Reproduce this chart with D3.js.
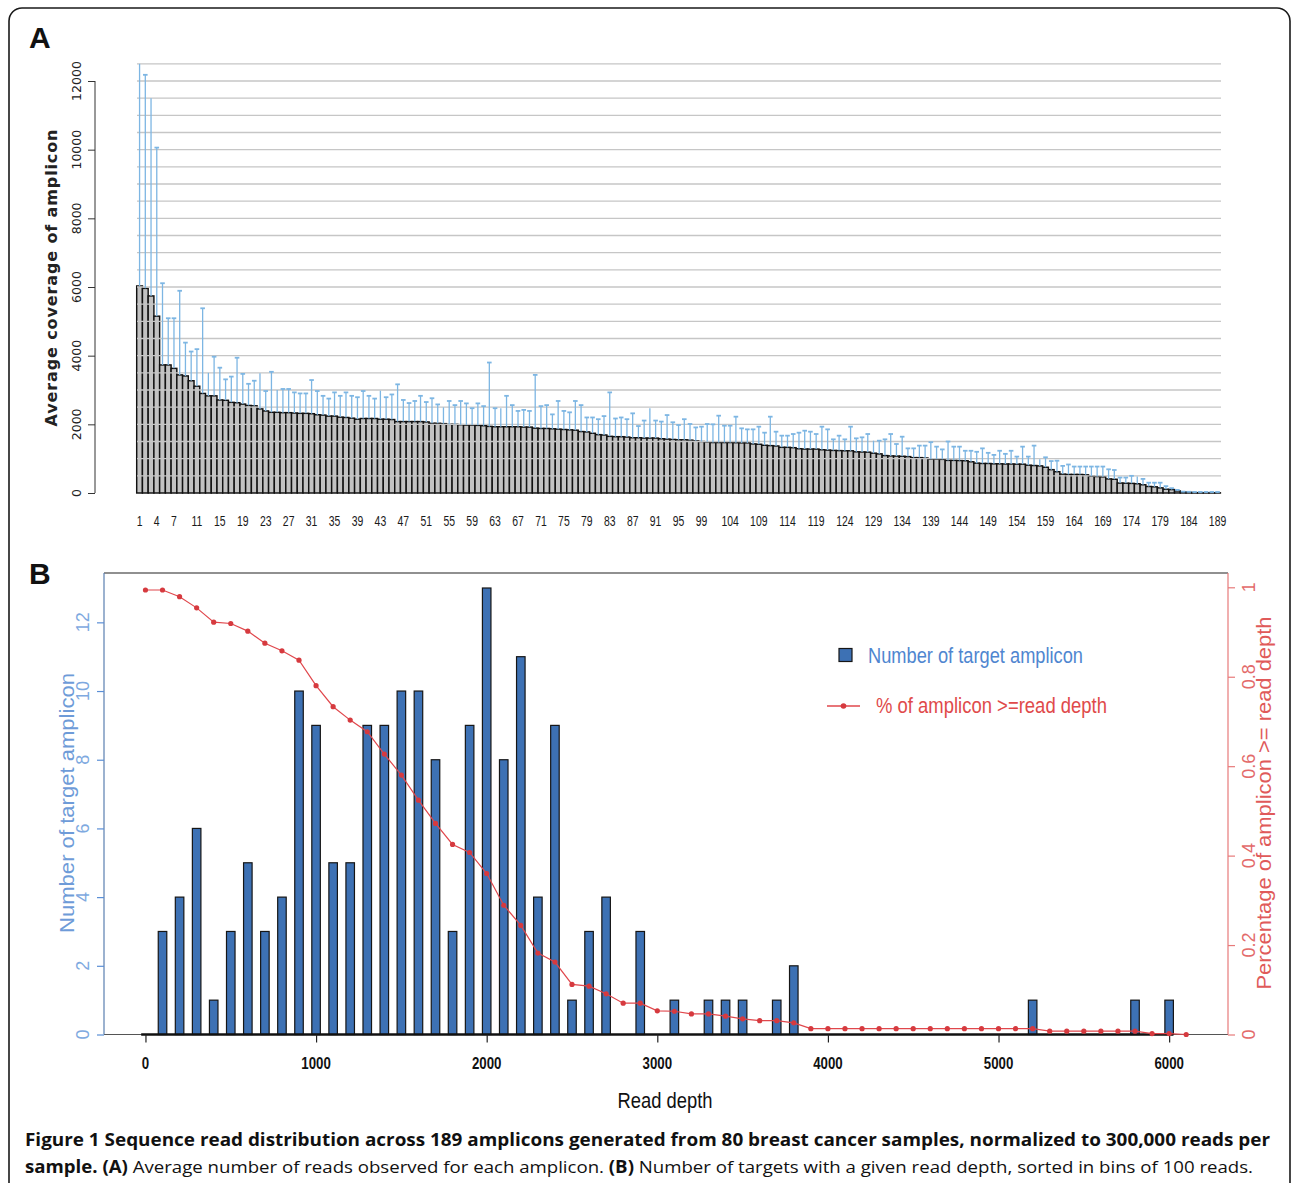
<!DOCTYPE html>
<html><head><meta charset="utf-8">
<script src="https://cdn.jsdelivr.net/npm/d3@7"></script>
<style>body{margin:0;background:#fff} svg{display:block}</style>
</head><body>
<svg id="fig" width="1292" height="1183"></svg>
<script>
// ---------- Panel A data ----------
const ampliconIds = d3.range(1, 190);
const coverageMean = [
 6030,5960,5740,5150,3730,3730,3630,3440,3410,3270,
 3110,2900,2830,2830,2710,2700,2640,2630,2590,2550,
 2540,2450,2390,2350,2350,2340,2340,2330,2320,2320,
 2310,2280,2270,2240,2240,2210,2200,2180,2150,2170,
 2170,2170,2150,2150,2140,2080,2080,2080,2080,2080,
 2070,2030,2030,2020,2000,2000,1990,1980,1980,1970,
 1960,1940,1930,1930,1930,1930,1930,1920,1920,1890,
 1880,1880,1870,1860,1850,1840,1830,1790,1780,1740,
 1700,1690,1650,1640,1640,1630,1610,1610,1600,1600,
 1600,1580,1570,1560,1550,1550,1540,1520,1500,1490,
 1470,1470,1470,1470,1465,1460,1460,1430,1420,1390,
 1380,1370,1330,1330,1320,1290,1280,1280,1280,1260,
 1250,1240,1235,1230,1230,1200,1195,1190,1160,1140,
 1090,1080,1075,1070,1060,1030,1030,1020,990,990,
 980,950,950,945,940,910,870,860,860,850,
 850,845,845,840,840,810,800,790,750,680,
 620,550,540,540,540,530,490,480,470,410,
 400,290,285,280,270,240,190,180,150,110,
 100,60,25,20,10,8,6,5,4];
const coverageUpper = [
 12500,12180,11500,10060,6110,5090,5090,5890,4380,4120,
 4190,5380,3500,3970,3650,3310,3390,3940,3470,3180,
 3270,3490,2970,3530,3000,3030,3030,2930,2900,2900,
 3290,2970,2830,2750,2930,2830,2930,2830,2790,2970,
 2830,2750,2980,2790,2870,3165,2710,2620,2680,2830,
 2650,2760,2580,2495,2680,2560,2680,2610,2470,2610,
 2530,3800,2470,2470,2830,2560,2390,2420,2390,3440,
 2530,2560,2290,2680,2390,2350,2680,2560,2200,2200,
 2150,2240,2930,2170,2200,2150,2320,1950,2110,2470,
 2110,2080,2270,2060,1980,2150,2010,1910,1932,2010,
 2000,2252,1961,1961,2223,1883,1854,1854,1932,1757,
 2223,1786,1670,1670,1718,1757,1815,1786,1718,1932,
 1854,1563,1670,1563,1932,1592,1621,1718,1524,1524,
 1563,1718,1427,1640,1300,1300,1380,1380,1480,1350,
 1270,1500,1350,1350,1230,1230,1200,1300,1170,1110,
 1230,1140,1230,1060,1350,1060,1380,980,1040,930,
 940,790,830,770,770,770,770,770,770,690,
 670,450,450,500,480,410,300,300,300,200,
 140,90,40,35,30,30,30,30,30];
const noCapIds = [1,3,13,22,25,43,54,64,90,129,158,175];
const xTickLabelsA = [1,4,7,11,15,19,23,27,31,35,39,43,47,51,55,59,63,67,71,75,79,83,87,91,95,99,104,109,114,119,124,129,134,139,144,149,154,159,164,169,174,179,184,189];
const yTicksA = [0,2000,4000,6000,8000,10000,12000];
const gridA = [500,1000,1500,2000,2500,3000,3500,4000,4500,5000,5500,6000,6500,7000,7500,8000,8500,9000,9500,10000,10500,11000,11500,12000,12500];

// ---------- Panel B data ----------
const depthBins = [0,100,200,300,400,500,600,700,800,900,1000,1100,1200,1300,1400,1500,1600,1700,1800,1900,2000,2100,2200,2300,2400,2500,2600,2700,2800,2900,3000,3100,3200,3300,3400,3500,3600,3700,3800,3900,4000,4100,4200,4300,4400,4500,4600,4700,4800,4900,5000,5100,5200,5300,5400,5500,5600,5700,5800,5900,6000];
const binCounts = [0,3,4,6,1,3,5,3,4,10, 9,5,5,9,9,10,10,8,3,9, 13,8,11,4,9,1,3,4,0,3, 0,1,0,1,1,1,0,1,2,0, 0,0,0,0,0,0,0,0,0,0, 0,0,1,0,0,0,0,0,1,0, 1];
const cumDepth = [0,100,200,300,400,500,600,700,800,900,1000,1100,1200,1300,1400,1500,1600,1700,1800,1900,2000,2100,2200,2300,2400,2500,2600,2700,2800,2900,3000,3100,3200,3300,3400,3500,3600,3700,3800,3900,4000,4100,4200,4300,4400,4500,4600,4700,4800,4900,5000,5100,5200,5300,5400,5500,5600,5700,5800,5900,6000,6100];
const cumPct = [
 0.994,0.994,0.979,0.954,0.922,0.919,0.902,0.875,0.858,0.837,
 0.780,0.733,0.703,0.677,0.627,0.580,0.524,0.472,0.425,0.407,
 0.360,0.289,0.244,0.182,0.162,0.112,0.108,0.091,0.070,0.070,
 0.053,0.052,0.046,0.046,0.041,0.035,0.031,0.031,0.026,0.013,
 0.013,0.013,0.013,0.013,0.013,0.013,0.013,0.013,0.013,0.013,
 0.013,0.013,0.013,0.0075,0.0075,0.0075,0.0075,0.0075,0.0075,0.002,
 0.002,0];
const xTicksB = [0,1000,2000,3000,4000,5000,6000];
const yTicksB = [0,2,4,6,8,10,12];
const yTicksR = [0,0.2,0.4,0.6,0.8,1];
const yTickLabelsR = ["0","0.2","0.4","0.6","0.8","1"];

// ---------- Drawing ----------
const svg = d3.select("#fig");
svg.append("rect").attr("x",9).attr("y",8).attr("width",1281).attr("height",1210)
  .attr("rx",13).attr("fill","none").attr("stroke","#1a1a1a").attr("stroke-width",1.6);

const bold = "'Liberation Sans', Arial, sans-serif";
svg.append("text").attr("x",29).attr("y",48).text("A")
  .attr("font-family",bold).attr("font-weight","bold").attr("font-size",30).attr("fill","#111");
svg.append("text").attr("x",29).attr("y",584).text("B")
  .attr("font-family",bold).attr("font-weight","bold").attr("font-size",30).attr("fill","#111");

// Panel A
const xA = d3.scaleBand().domain(ampliconIds).range([136.7, 1220.4]).padding(0);
const yA = d3.scaleLinear().domain([0, 12000]).range([493, 81]);
const bw = xA.bandwidth();
const gA = svg.append("g");

gA.append("g").selectAll("rect").data(ampliconIds).join("rect")
  .attr("x", d => xA(d)).attr("width", bw)
  .attr("y", (d,i) => yA(coverageMean[i]))
  .attr("height", (d,i) => yA(0) - yA(coverageMean[i]))
  .attr("fill", "#c2c2c2").attr("stroke", "#111").attr("stroke-width", 1.45);

gA.append("g").selectAll("line").data(gridA).join("line")
  .attr("x1", 137).attr("x2", 1221)
  .attr("y1", d => yA(d)).attr("y2", d => yA(d))
  .attr("stroke", "#c6c6c6").attr("stroke-width", 1.4);

const eb = gA.append("g").attr("stroke", "#7db6e3").attr("stroke-width", 1.3);
eb.selectAll("line.v").data(ampliconIds).join("line").attr("class","v")
  .attr("x1", d => xA(d) + bw/2).attr("x2", d => xA(d) + bw/2)
  .attr("y1", (d,i) => yA(coverageMean[i])).attr("y2", (d,i) => yA(coverageUpper[i]));
eb.selectAll("line.c").data(ampliconIds.filter(d => !noCapIds.includes(d))).join("line").attr("class","c")
  .attr("x1", d => xA(d) + bw/2 - 2.3).attr("x2", d => xA(d) + bw/2 + 2.3)
  .attr("y1", d => yA(coverageUpper[d-1])).attr("y2", d => yA(coverageUpper[d-1]))
  .attr("stroke-width", 1.8);

// y axis A
const axA = gA.append("g").attr("transform","translate(95,0)")
  .call(d3.axisLeft(yA).tickValues(yTicksA).tickSize(7).tickFormat(""));
axA.select(".domain").attr("stroke","#333").attr("d", `M-0,${yA(0)}V${yA(12000)}`);
axA.selectAll(".tick line").attr("stroke","#333");
gA.append("g").selectAll("text").data(yTicksA).join("text")
  .attr("transform", d => `translate(80.5,${yA(d)}) rotate(-90)`)
  .attr("text-anchor","middle").attr("font-family","'DejaVu Sans', sans-serif")
  .attr("font-size",12.5).attr("fill","#222").text(d => d);
gA.append("text").attr("transform",`translate(56.5,278) rotate(-90)`)
  .attr("text-anchor","middle").attr("font-family","'DejaVu Sans', sans-serif")
  .attr("font-weight","bold").attr("font-size",16).attr("fill","#222")
  .attr("textLength",297).attr("lengthAdjust","spacing")
  .text("Average coverage of amplicon");
// x labels A
gA.append("g").selectAll("text").data(xTickLabelsA).join("text")
  .attr("transform", d => `translate(${xA(d)+bw/2},526) scale(0.72,1)`)
  .attr("text-anchor","middle").attr("font-family",bold)
  .attr("font-size",14.5).attr("fill","#1a1a1a").text(d => d);

// Panel B
const xB = d3.scaleLinear().domain([-243, 6345]).range([104, 1228]);
const yB = d3.scaleLinear().domain([0, 13]).range([1034.5, 588]);
const yR = d3.scaleLinear().domain([0, 1]).range([1034.5, 587.3]);
const gB = svg.append("g");
const blue = "#5b8fd6", red = "#e0474c";

gB.append("line").attr("x1",104).attr("x2",1228).attr("y1",573).attr("y2",573)
  .attr("stroke","#222").attr("stroke-width",1.2);
gB.append("line").attr("x1",104).attr("x2",1228).attr("y1",yB(0)).attr("y2",yB(0))
  .attr("stroke","#555").attr("stroke-width",1);

gB.append("g").selectAll("rect").data(depthBins.filter((d,i)=>binCounts[i]>0)).join("rect")
  .attr("x", d => xB(d - 25)).attr("width", d => xB(d + 25) - xB(d - 25))
  .attr("y", d => yB(binCounts[depthBins.indexOf(d)]))
  .attr("height", d => yB(0) - yB(binCounts[depthBins.indexOf(d)]))
  .attr("fill", "#3d71b4").attr("stroke", "#161616").attr("stroke-width", 1.2);
gB.append("line")
  .attr("x1", xB(depthBins[0]-25)).attr("x2", xB(depthBins[depthBins.length-1]+25))
  .attr("y1", yB(0)).attr("y2", yB(0)).attr("stroke","#111").attr("stroke-width",2.6);

const axB = gB.append("g").attr("transform",`translate(0,${yB(0)})`)
  .call(d3.axisBottom(xB).tickValues(xTicksB).tickSize(8).tickFormat(""));
axB.select(".domain").remove();
axB.selectAll(".tick line").attr("stroke","#222").attr("stroke-width",1.2);
gB.append("g").selectAll("text").data(xTicksB).join("text")
  .attr("transform", d => `translate(${xB(d)},1069) scale(0.78,1)`)
  .attr("text-anchor","middle").attr("font-family",bold).attr("font-weight","bold")
  .attr("font-size",17).attr("fill","#111").text(d => d);
gB.append("text").attr("x",665).attr("y",1108).attr("text-anchor","middle")
  .attr("font-family",bold).attr("font-size",22).attr("fill","#111")
  .attr("textLength",95).attr("lengthAdjust","spacingAndGlyphs").text("Read depth");

gB.append("line").attr("x1",104).attr("x2",104).attr("y1",573).attr("y2",yB(0))
  .attr("stroke","#5a7fb0").attr("stroke-width",1.2);
const axL = gB.append("g").attr("transform","translate(104,0)")
  .call(d3.axisLeft(yB).tickValues(yTicksB).tickSize(7).tickFormat(""));
axL.select(".domain").remove();
axL.selectAll(".tick line").attr("stroke", blue).attr("stroke-width",1.2);
gB.append("g").selectAll("text").data(yTicksB).join("text")
  .attr("transform", d => `translate(89,${yB(d)}) rotate(-90)`)
  .attr("text-anchor","middle").attr("font-family",bold)
  .attr("font-size",18).attr("fill","#7ea9e0").text(d => d);
gB.append("text").attr("transform","translate(74,803) rotate(-90)")
  .attr("text-anchor","middle").attr("font-family",bold).attr("font-size",20.5)
  .attr("fill","#6e9bd8").attr("textLength",260).attr("lengthAdjust","spacingAndGlyphs")
  .text("Number of target amplicon");

gB.append("line").attr("x1",1228).attr("x2",1228).attr("y1",573).attr("y2",yB(0))
  .attr("stroke","#e77a7a").attr("stroke-width",1.2);
const axR = gB.append("g").attr("transform","translate(1228,0)")
  .call(d3.axisRight(yR).tickValues(yTicksR).tickSize(7).tickFormat(""));
axR.select(".domain").remove();
axR.selectAll(".tick line").attr("stroke","#e77a7a").attr("stroke-width",1.2);
gB.append("g").selectAll("text").data(yTicksR).join("text")
  .attr("transform", d => `translate(1255,${yR(d)}) rotate(-90)`)
  .attr("text-anchor","middle").attr("font-family",bold)
  .attr("font-size",18).attr("fill","#e36a6a").text((d,i) => yTickLabelsR[i]);
gB.append("text").attr("transform","translate(1271,803) rotate(-90)")
  .attr("text-anchor","middle").attr("font-family",bold).attr("font-size",20)
  .attr("fill","#e05a5a").attr("textLength",373).attr("lengthAdjust","spacingAndGlyphs")
  .text("Percentage of amplicon >= read depth");

const line = d3.line().x(d => xB(d)).y((d,i) => yR(cumPct[i]));
gB.append("path").datum(cumDepth).attr("d", line)
  .attr("fill","none").attr("stroke", red).attr("stroke-width",1.2);
gB.append("g").selectAll("circle").data(cumDepth).join("circle")
  .attr("cx", d => xB(d)).attr("cy", (d,i) => yR(cumPct[i])).attr("r", 2.6)
  .attr("fill", "#d63a3f");

gB.append("rect").attr("x",839).attr("y",648.5).attr("width",13).attr("height",13)
  .attr("fill","#3d71b4").attr("stroke","#161616").attr("stroke-width",1.2);
gB.append("text").attr("x",868).attr("y",663).attr("font-family",bold).attr("font-size",22.5)
  .attr("fill","#4f86d0").attr("textLength",215).attr("lengthAdjust","spacingAndGlyphs")
  .text("Number of target amplicon");
gB.append("line").attr("x1",827).attr("x2",860).attr("y1",706).attr("y2",706)
  .attr("stroke",red).attr("stroke-width",1.4);
gB.append("circle").attr("cx",843.5).attr("cy",706).attr("r",2.8).attr("fill","#d63a3f");
gB.append("text").attr("x",876).attr("y",713).attr("font-family",bold).attr("font-size",22.5)
  .attr("fill","#e04a4a").attr("textLength",231).attr("lengthAdjust","spacingAndGlyphs")
  .text("% of amplicon >=read depth");

const capFont = "'Open Sans', 'Noto Sans', sans-serif";
svg.append("text").attr("x",25).attr("y",1146).attr("font-family",capFont)
  .attr("font-size",17).attr("font-weight","bold").attr("fill","#111")
  .attr("textLength",1245).attr("lengthAdjust","spacingAndGlyphs")
  .text("Figure 1 Sequence read distribution across 189 amplicons generated from 80 breast cancer samples, normalized to 300,000 reads per");
const cap2 = svg.append("text").attr("x",25).attr("y",1173).attr("font-family",capFont)
  .attr("font-size",17).attr("fill","#111")
  .attr("textLength",1228).attr("lengthAdjust","spacingAndGlyphs");
cap2.append("tspan").attr("font-weight","bold").text("sample. (A)");
cap2.append("tspan").text(" Average number of reads observed for each amplicon. ");
cap2.append("tspan").attr("font-weight","bold").text("(B)");
cap2.append("tspan").text(" Number of targets with a given read depth, sorted in bins of 100 reads.");
</script>
</body></html>
